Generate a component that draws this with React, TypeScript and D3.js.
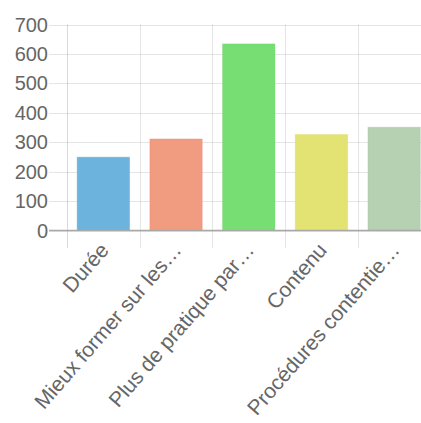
import React from "react";
import * as d3 from "d3";

const categories = ["Durée", "Mieux former sur les…", "Plus de pratique par…", "Contenu", "Procédures contentie…"];
const values = [249, 311, 634, 326, 351];
const colors = ["#6cb3de", "#f19c80", "#77de74", "#e2e373", "#b6d1b2"];
const borders = ["#5a9fcf", "#e8876b", "#63d05f", "#d6d75c", "#a3c29e"];
const yTicks = [0, 100, 200, 300, 400, 500, 600, 700];

const W = 421;
const H = 423;

export default function App() {
  const left = 67;
  const band = 72.7;
  const x = d3.scaleBand<string>().domain(categories).range([left, left + band * categories.length]).paddingInner(0).paddingOuter(0);
  const y = d3.scaleLinear().domain([0, 700]).range([230.5, 24.5]);
  const bw = x.bandwidth() * 0.72;
  const font = "'Liberation Sans', Arial, Helvetica, sans-serif";
  const grid = "rgba(0,0,0,0.1)";
  const bounds = [...categories.map((c) => x(c) as number), (x(categories[categories.length - 1]) as number) + x.bandwidth()];
  const angle = -49;

  return (
    <svg width={W} height={H} style={{ position: "absolute", left: 0, top: 0, background: "#fff" }}>
      {yTicks.map((t) => (
        <line key={"h" + t} x1={49} x2={W} y1={Math.round(y(t)) + 0.5} y2={Math.round(y(t)) + 0.5} stroke={grid} strokeWidth={1} />
      ))}
      {bounds.map((b, i) => (
        <line key={"v" + i} x1={Math.round(b) + 0.5} x2={Math.round(b) + 0.5} y1={y(700)} y2={248} stroke={i === 0 ? "rgba(0,0,0,0.15)" : grid} strokeWidth={1} />
      ))}
      {categories.map((c, i) => {
        const cx = (x(c) as number) + x.bandwidth() / 2;
        return (
          <rect key={c} x={cx - bw / 2} y={y(values[i])} width={bw} height={y(0) - y(values[i])} fill={colors[i]} stroke={borders[i]} strokeOpacity={0.35} strokeWidth={1} />
        );
      })}
      <line x1={49} x2={W} y1={y(0)} y2={y(0)} stroke="#a8a8a8" strokeWidth={1.5} />
      {yTicks.map((t) => (
        <text key={"t" + t} x={48} y={y(t)} dy="0.35em" textAnchor="end" fontFamily={font} fontSize={20} fill="#666">
          {t}
        </text>
      ))}
      {categories.map((c) => {
        const cx = (x(c) as number) + x.bandwidth() / 2 + 1;
        const ty = 246;
        return (
          <text key={"l" + c} x={cx} y={ty} dy="0.35em" textAnchor="end" transform={`rotate(${angle} ${cx} ${ty})`} fontFamily={font} fontSize={21} fill="#666">
            {c}
          </text>
        );
      })}
    </svg>
  );
}
